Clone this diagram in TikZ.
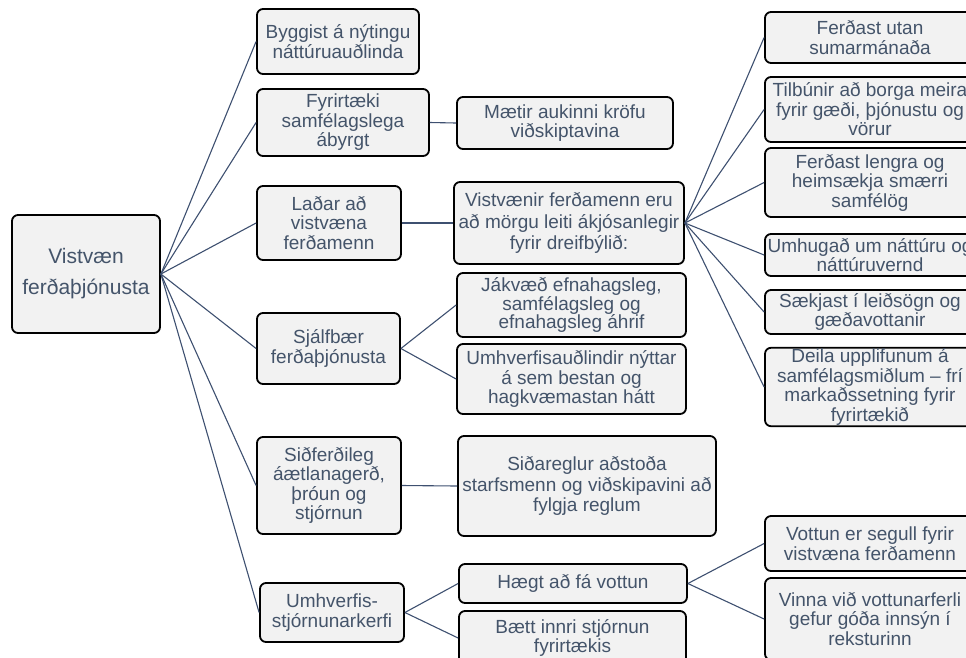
\documentclass[tikz,border=0pt]{standalone}
\usepackage{fontspec}
\setmainfont{Liberation Sans}
\usepackage{xcolor}
\usetikzlibrary{positioning}
\definecolor{boxfill}{HTML}{F2F2F2}
\definecolor{textcol}{HTML}{44546A}
\definecolor{linkcol}{HTML}{3E5070}
\tikzset{
	topic/.style={
			draw=black, fill=boxfill, line width=1.8pt, rounded corners=6pt,
			text=textcol, align=center, inner sep=1pt,
			font=\fontsize{19}{19.5}\selectfont
		},
	roottopic/.style={topic, font=\fontsize{21}{31}\selectfont},
	every edge/.style={draw=linkcol, line width=1.1pt}
}

\begin{document}
\begin{tikzpicture}[x=1pt, y=-1pt, node distance = 6 em]
  \clip (0,0) rectangle (966,657);

  \node[roottopic, minimum width=148pt, minimum height=118pt] (root) at (86,274) {Vistvæn\\ferðaþjónusta};

  \node[topic, minimum width=162pt, minimum height=65pt] (nyting) at (338,41.5) {Byggist á nýtingu\\náttúruauðlinda};
  \node[topic, minimum width=172pt, minimum height=67pt] (abyrgt) at (343,122.5) {Fyrirtæki\\samfélagslega\\ábyrgt};
  \node[topic, minimum width=144pt, minimum height=74pt] (ladar) at (329,223) {Laðar að\\vistvæna\\ferðamenn};
  \node[topic, minimum width=143pt, minimum height=71pt] (sjalfbaer) at (328.5,348.5) {Sjálfbær\\ferðaþjónusta};
  \node[topic, minimum width=144pt, minimum height=97pt] (sidferdi) at (329,485.5) {Siðferðileg\\áætlanagerð,\\þróun og\\stjórnun};
  \node[topic, minimum width=144pt, minimum height=59pt] (umhverfis) at (332,612.5) {Umhverfis-\\stjórnunarkerfi};

  \node[topic, minimum width=216pt, minimum height=52pt] (krofu) at (565,123) {Mætir aukinni kröfu\\viðskiptavina};
  \node[topic, minimum width=230pt, minimum height=82pt, font=\fontsize{19}{21.5}\selectfont] (vistvaenir) at (569,223) {Vistvænir ferðamenn eru\\að mörgu leiti ákjósanlegir\\fyrir dreifbýlið:};
  \node[topic, minimum width=229pt, minimum height=64pt, font=\fontsize{19}{18.5}\selectfont] (jakvaed) at (571.5,305) {Jákvæð efnahagsleg,\\samfélagsleg og\\efnahagsleg áhrif};
  \node[topic, minimum width=229pt, minimum height=70pt] (audlindir) at (571.5,379) {Umhverfisauðlindir nýttar\\á sem bestan og\\hagkvæmastan hátt};
  \node[topic, minimum width=258pt, minimum height=100pt, font=\fontsize{19}{20.5}\selectfont] (sidareglur) at (587,486) {Siðareglur aðstoða\\starfsmenn og viðskipavini að\\fylgja reglum};
  \node[topic, minimum width=228pt, minimum height=39pt] (vottun) at (573,583.5) {Hægt að fá vottun};
  \node[topic, minimum width=227pt, minimum height=54pt] (innri) at (572.5,638) {Bætt innri stjórnun\\fyrirtækis};

  \node[topic, minimum width=210pt, minimum height=51pt] (utan) at (870,37.5) {Ferðast utan\\sumarmánaða};
  \node[topic, minimum width=210pt, minimum height=65pt] (borga) at (870,109.5) {Tilbúnir að borga meira\\fyrir gæði, þjónustu og\\vörur};
  \node[topic, minimum width=210pt, minimum height=69pt] (lengra) at (870,182.5) {Ferðast lengra og\\heimsækja smærri\\samfélög};
  \node[topic, minimum width=210pt, minimum height=42pt] (natturu) at (870,255) {Umhugað um náttúru og\\náttúruvernd};
  \node[topic, minimum width=210pt, minimum height=44pt] (leidsogn) at (870,312) {Sækjast í leiðsögn og\\gæðavottanir};
  \node[topic, minimum width=210pt, minimum height=78pt] (deila) at (870,387) {Deila upplifunum á\\samfélagsmiðlum -- frí\\markaðssetning fyrir\\fyrirtækið};
  \node[topic, minimum width=210pt, minimum height=55pt] (segull) at (870,543.5) {Vottun er segull fyrir\\vistvæna ferðamenn};
  \node[topic, minimum width=210pt, minimum height=82pt] (innsyn) at (870,619) {Vinna við vottunarferli\\gefur góða innsýn í\\reksturinn};

  \path (root.east) edge (nyting.west)
  edge (abyrgt.west)
  edge (ladar.west)
  edge (sjalfbaer.west)
  edge (sidferdi.west)
  edge (umhverfis.west);
  \path (abyrgt.east) edge (krofu.west);
  \path (ladar.east) edge (vistvaenir.west);
  \path (sjalfbaer.east) edge (jakvaed.west)
  edge (audlindir.west);
  \path (sidferdi.east) edge (sidareglur.west);
  \path (umhverfis.east) edge (vottun.west)
  edge (innri.west);
  \path (vistvaenir.east) edge (utan.west)
  edge (borga.west)
  edge (lengra.west)
  edge (natturu.west)
  edge (leidsogn.west)
  edge (deila.west);
  \path (vottun.east) edge (segull.west)
  edge (innsyn.west);

\end{tikzpicture}
\end{document}
